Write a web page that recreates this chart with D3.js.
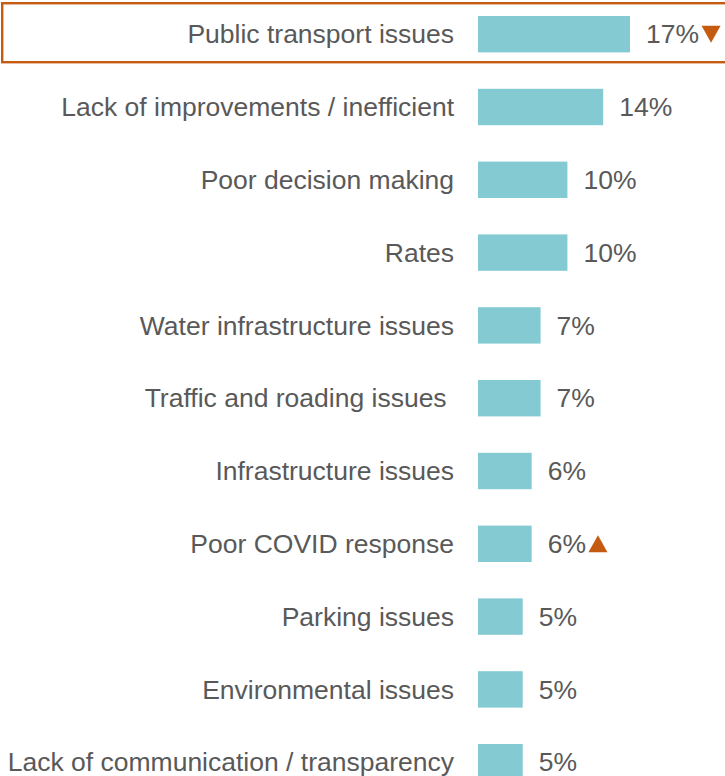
<!DOCTYPE html>
<html>
<head>
<meta charset="utf-8">
<script src="https://cdn.jsdelivr.net/npm/d3@7"></script>
<style>
  html, body { margin: 0; padding: 0; background: #fff; }
  svg { display: block; }
  text { font-family: Arial, "Liberation Sans", sans-serif; fill: #595959; }
</style>
</head>
<body>
<svg id="chart" width="725" height="776"></svg>
<script>
const categories = [
  "Public transport issues",
  "Lack of improvements / inefficient",
  "Poor decision making",
  "Rates",
  "Water infrastructure issues",
  "Traffic and roading issues ",
  "Infrastructure issues",
  "Poor COVID response",
  "Parking issues",
  "Environmental issues",
  "Lack of communication / transparency"
];
const values = [17, 14, 10, 10, 7, 7, 6, 6, 5, 5, 5];
// change vs previous wave: -1 down, +1 up, 0 none
const changes = [-1, 0, 0, 0, 0, 0, 0, 1, 0, 0, 0];
const highlighted = "Public transport issues";

const barColor = "#84CAD3";
const accent = "#C55A11";
const fontSize = 26.5;

const svg = d3.select("#chart");
const barLeft = 478;

const x = d3.scaleLinear().domain([0, 17]).range([0, 152]);
const y = d3.scaleBand()
  .domain(categories)
  .range([-20.4, 816.8])
  .paddingInner(0.5)
  .paddingOuter(0.5);

const rows = categories.map((c, i) => ({ cat: c, value: values[i], change: changes[i] }));

// highlight frame round the first row
const hy = y(highlighted) + y.bandwidth() / 2;
svg.append("rect")
  .attr("x", 2.2).attr("y", hy - 31)
  .attr("width", 740).attr("height", 59)
  .attr("fill", "none")
  .attr("stroke", accent)
  .attr("stroke-width", 2.4);

const g = svg.append("g");

g.selectAll("rect.bar")
  .data(rows)
  .join("rect")
  .attr("class", "bar")
  .attr("x", barLeft)
  .attr("y", d => y(d.cat))
  .attr("width", d => x(d.value))
  .attr("height", y.bandwidth())
  .attr("fill", barColor);

g.selectAll("text.cat")
  .data(rows)
  .join("text")
  .attr("class", "cat")
  .attr("x", 454)
  .attr("y", d => y(d.cat) + y.bandwidth() / 2)
  .attr("dy", "0.35em")
  .attr("text-anchor", "end")
  .attr("font-size", fontSize)
  .style("white-space", "pre")
  .attr("xml:space", "preserve")
  .text(d => d.cat);

const valLabels = g.selectAll("text.val")
  .data(rows)
  .join("text")
  .attr("class", "val")
  .attr("x", d => barLeft + x(d.value) + 16)
  .attr("y", d => y(d.cat) + y.bandwidth() / 2)
  .attr("dy", "0.35em")
  .attr("font-size", fontSize)
  .text(d => d.value + "%");

// change markers after the value labels
valLabels.each(function (d) {
  if (!d.change) return;
  const bb = this.getBBox();
  const cx = bb.x + bb.width + 12;
  const cy = y(d.cat) + y.bandwidth() / 2;
  const w = 19, h = 17;
  const pts = d.change < 0
    ? [[cx - w / 2, cy - h / 2], [cx + w / 2, cy - h / 2], [cx, cy + h / 2]]
    : [[cx - w / 2, cy + h / 2], [cx + w / 2, cy + h / 2], [cx, cy - h / 2]];
  g.append("path")
    .attr("d", d3.line()(pts) + "Z")
    .attr("fill", accent);
});
</script>
</body>
</html>
